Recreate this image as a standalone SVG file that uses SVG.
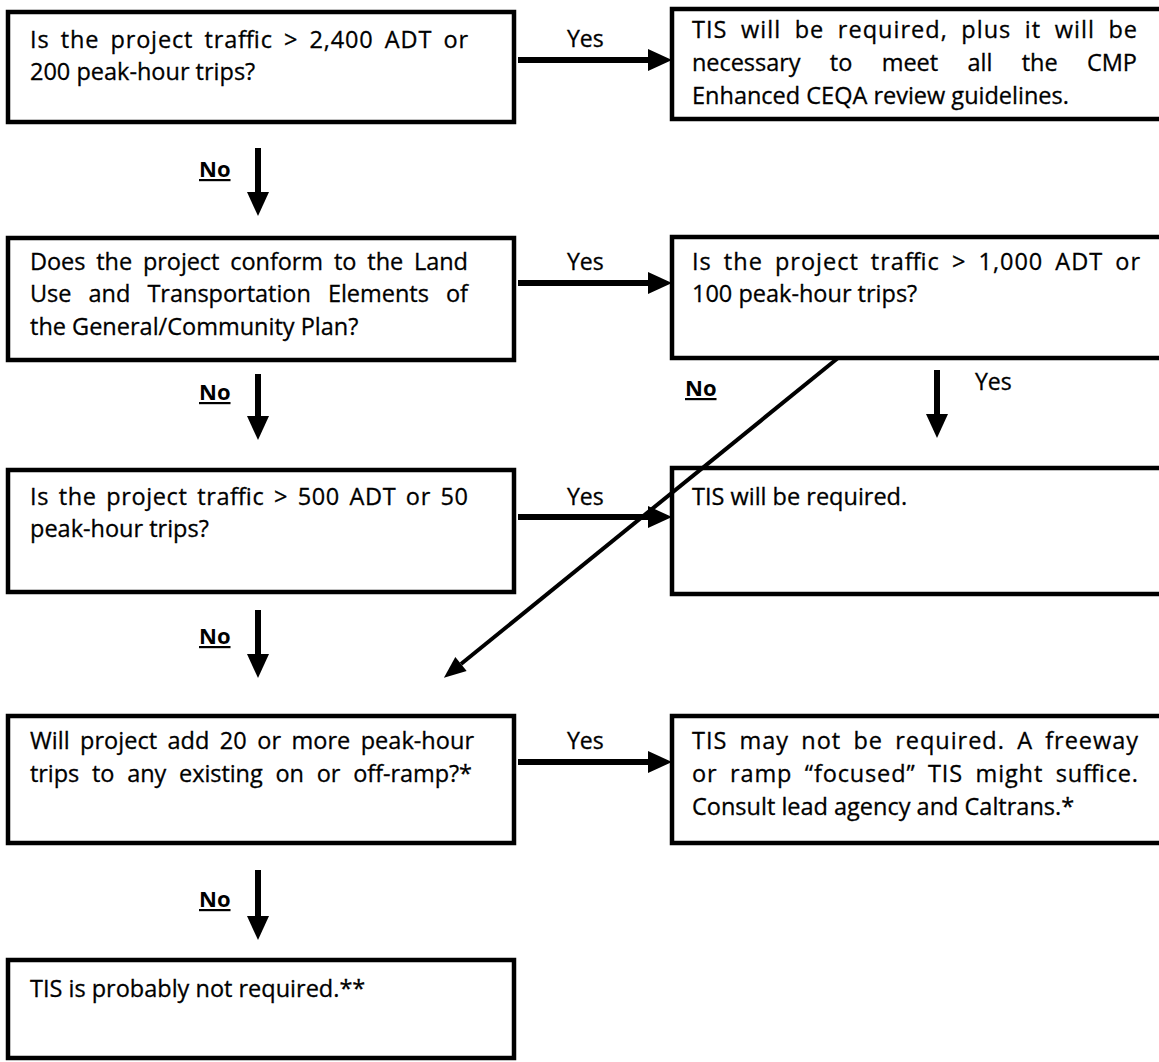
<svg xmlns="http://www.w3.org/2000/svg" width="1159" height="1062" viewBox="0 0 1159 1062">
  <style>
    .box { fill: #fff; stroke: #000; stroke-width: 4.5; }
    .t { font-family: "Open Sans", "Liberation Sans", sans-serif; font-size: 23.5px; fill: #000; stroke: #000; stroke-width: 0.3; }
    .yes { font-family: "Open Sans", "Liberation Sans", sans-serif; font-size: 23px; fill: #000; stroke: #000; stroke-width: 0.3; }
    .no { font-family: "Open Sans", "Liberation Sans", sans-serif; font-size: 22px; font-weight: bold; fill: #000; text-decoration: underline; }
    .shaft { stroke: #000; stroke-width: 6; fill: none; }
    .diag { stroke: #000; stroke-width: 4; fill: none; }
  </style>
  <defs>
    <marker id="head" markerUnits="userSpaceOnUse" markerWidth="24" markerHeight="22" refX="0" refY="11" orient="auto" overflow="visible">
      <path d="M0,0 L24,11 L0,22 Z" fill="#000"/>
    </marker>
    <marker id="headThin" markerUnits="userSpaceOnUse" markerWidth="22" markerHeight="18" refX="0" refY="9" orient="auto" overflow="visible">
      <path d="M0,0 L22,9 L0,18 Z" fill="#000"/>
    </marker>
  </defs>

  <!-- decision boxes, left column -->
  <g id="q-2400">
    <rect class="box" x="8" y="12" width="506" height="110"/>
    <text class="t" x="30" y="48" word-spacing="4.3" textLength="438">Is the project traffic &gt; 2,400 ADT or</text>
    <text class="t" x="30" y="80">200 peak-hour trips?</text>
  </g>
  <g id="q-plan">
    <rect class="box" x="8" y="238" width="506" height="122"/>
    <text class="t" x="30" y="270" word-spacing="5" textLength="438">Does the project conform to the Land</text>
    <text class="t" x="30" y="302" word-spacing="11" textLength="438">Use and Transportation Elements of</text>
    <text class="t" x="30" y="335">the General/Community Plan?</text>
  </g>
  <g id="q-500">
    <rect class="box" x="8" y="470" width="506" height="122"/>
    <text class="t" x="30" y="505" word-spacing="2.9" textLength="438">Is the project traffic &gt; 500 ADT or 50</text>
    <text class="t" x="30" y="537">peak-hour trips?</text>
  </g>
  <g id="q-ramp">
    <rect class="box" x="8" y="716" width="506" height="127"/>
    <text class="t" x="30" y="749" word-spacing="4.3" textLength="444">Will project add 20 or more peak-hour</text>
    <text class="t" x="30" y="782" word-spacing="6.8" textLength="442">trips to any existing on or off-ramp?*</text>
  </g>
  <g id="r-not-required">
    <rect class="box" x="8" y="960" width="506" height="98"/>
    <text class="t" x="30" y="997">TIS is probably not required.**</text>
  </g>

  <!-- result / decision boxes, right column -->
  <g id="r-enhanced">
    <rect class="box" x="672" y="9" width="500" height="110"/>
    <text class="t" x="692" y="38" word-spacing="6.4" textLength="445">TIS will be required, plus it will be</text>
    <text class="t" x="692" y="71" word-spacing="23.4" textLength="445">necessary to meet all the CMP</text>
    <text class="t" x="692" y="104">Enhanced CEQA review guidelines.</text>
  </g>
  <g id="q-1000">
    <rect class="box" x="672" y="237" width="500" height="121"/>
    <text class="t" x="692" y="270" word-spacing="5" textLength="448">Is the project traffic &gt; 1,000 ADT or</text>
    <text class="t" x="692" y="302">100 peak-hour trips?</text>
  </g>
  <g id="r-required">
    <rect class="box" x="672" y="468" width="500" height="126"/>
    <text class="t" x="692" y="505">TIS will be required.</text>
  </g>
  <g id="r-focused">
    <rect class="box" x="672" y="716" width="500" height="127"/>
    <text class="t" x="692" y="749" word-spacing="5.2" textLength="446">TIS may not be required. A freeway</text>
    <text class="t" x="692" y="782" word-spacing="5.6" textLength="446">or ramp “focused” TIS might suffice.</text>
    <text class="t" x="692" y="815">Consult lead agency and Caltrans.*</text>
  </g>

  <!-- connectors and their labels -->
  <g id="connectors">
    <line class="shaft" x1="518" y1="60" x2="648" y2="60" marker-end="url(#head)"/>
    <line class="shaft" x1="518" y1="283" x2="648" y2="283" marker-end="url(#head)"/>
    <line class="shaft" x1="518" y1="517" x2="648" y2="517" marker-end="url(#head)"/>
    <line class="shaft" x1="518" y1="762" x2="648" y2="762" marker-end="url(#head)"/>

    <line class="shaft" x1="258" y1="148" x2="258" y2="192" marker-end="url(#head)"/>
    <line class="shaft" x1="258" y1="374" x2="258" y2="416" marker-end="url(#head)"/>
    <line class="shaft" x1="258" y1="610" x2="258" y2="654" marker-end="url(#head)"/>
    <line class="shaft" x1="258" y1="870" x2="258" y2="916" marker-end="url(#head)"/>

    <line class="shaft" x1="937" y1="370" x2="937" y2="414" marker-end="url(#head)"/>
    <line class="diag" x1="838" y1="358" x2="461" y2="664" marker-end="url(#headThin)"/>

    <text class="yes" x="567" y="47">Yes</text>
    <text class="yes" x="567" y="270">Yes</text>
    <text class="yes" x="567" y="505">Yes</text>
    <text class="yes" x="567" y="749">Yes</text>
    <text class="yes" x="975" y="390">Yes</text>

    <text class="no" x="199" y="177">No</text>
    <text class="no" x="199" y="400">No</text>
    <text class="no" x="199" y="644">No</text>
    <text class="no" x="199" y="907">No</text>
    <text class="no" x="685" y="396">No</text>
  </g>
</svg>
